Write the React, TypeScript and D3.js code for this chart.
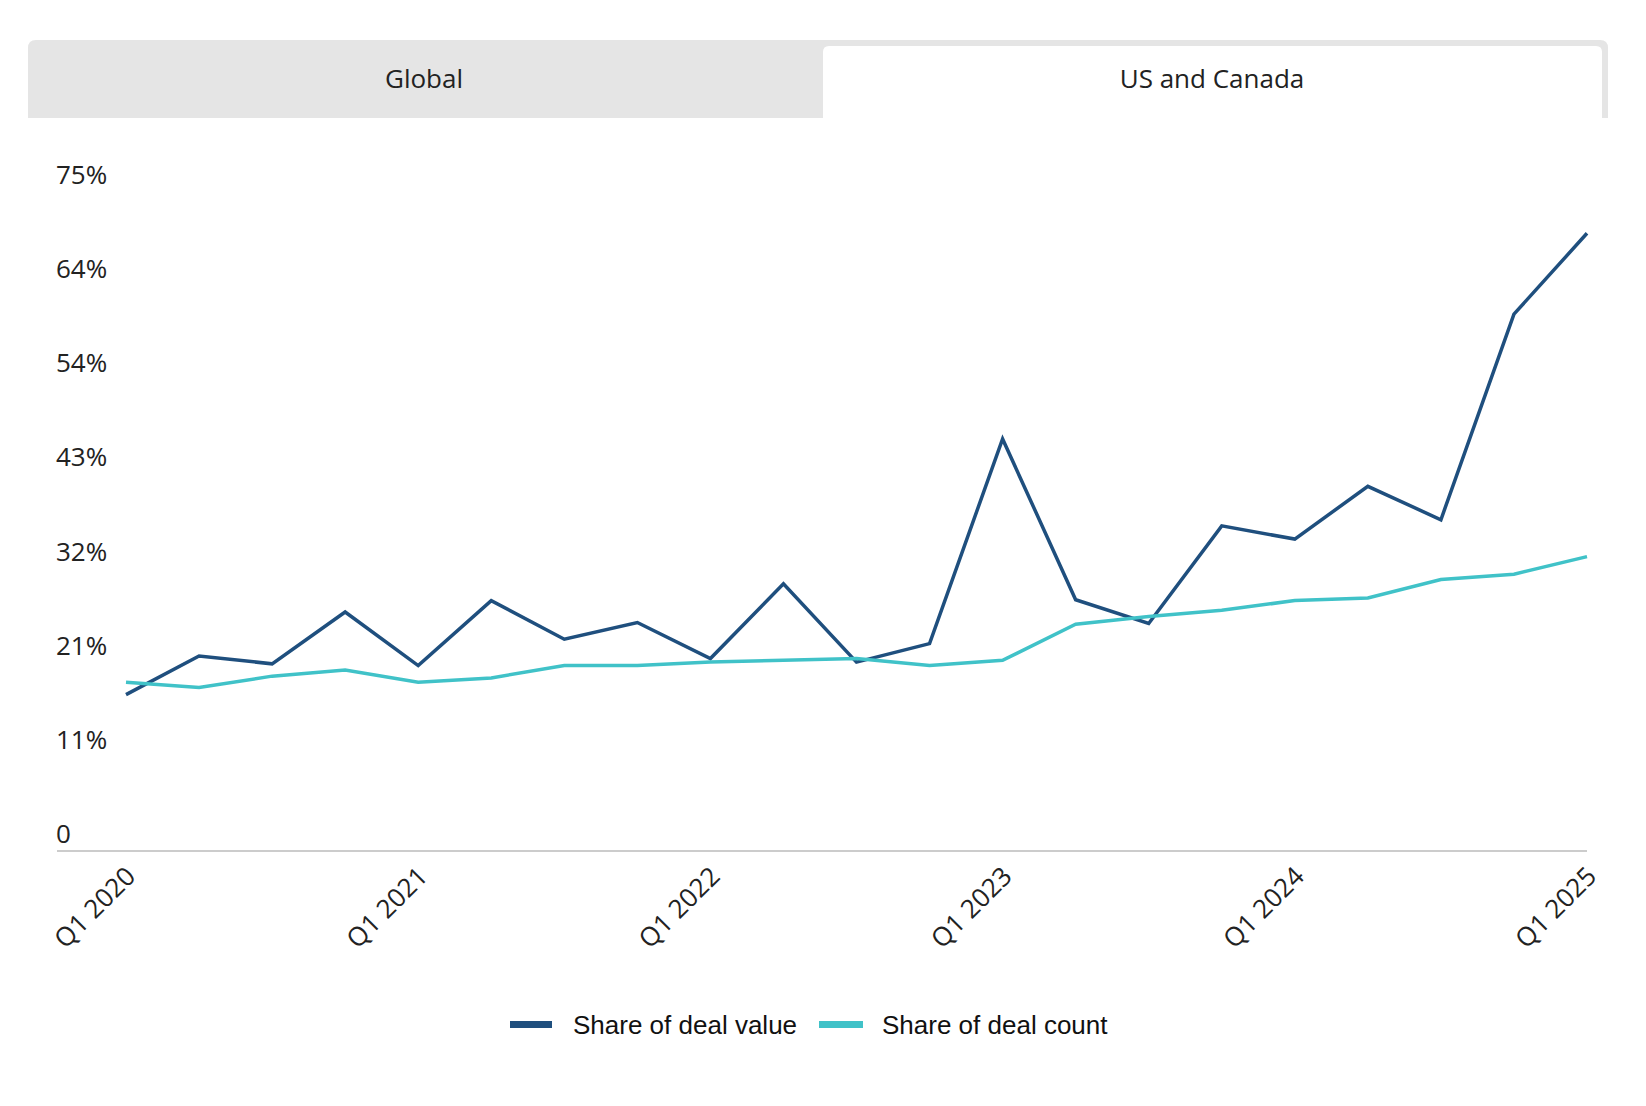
import React from 'react';
import * as d3 from 'd3';

// quarterly series, Q1 2020 .. Q1 2025
const quarters = [
  'Q1 2020', 'Q2 2020', 'Q3 2020', 'Q4 2020',
  'Q1 2021', 'Q2 2021', 'Q3 2021', 'Q4 2021',
  'Q1 2022', 'Q2 2022', 'Q3 2022', 'Q4 2022',
  'Q1 2023', 'Q2 2023', 'Q3 2023', 'Q4 2023',
  'Q1 2024', 'Q2 2024', 'Q3 2024', 'Q4 2024',
  'Q1 2025',
];
const dealValue = [
  17.8, 22.2, 21.3, 27.2, 21.1, 28.5, 24.1, 26.0, 21.9, 30.4, 21.5,
  23.6, 46.9, 28.6, 25.9, 37.0, 35.5, 41.5, 37.7, 61.1, 70.3,
];
const dealCount = [
  19.2, 18.6, 19.9, 20.6, 19.2, 19.7, 21.1, 21.1, 21.5, 21.7, 21.9,
  21.1, 21.7, 25.8, 26.7, 27.4, 28.5, 28.8, 30.9, 31.5, 33.5,
];
const yTicks = [0, 75 / 7, 150 / 7, 225 / 7, 300 / 7, 375 / 7, 450 / 7, 75];
const yTickLabels = ['0', '11%', '21%', '32%', '43%', '54%', '64%', '75%'];
const xTickLabels = ['Q1 2020', 'Q1 2021', 'Q1 2022', 'Q1 2023', 'Q1 2024', 'Q1 2025'];
const tabs = ['Global', 'US and Canada'];
const legendItems = ['Share of deal value', 'Share of deal count'];

const W = 1646;
const H = 1106;
const DARK = '#1f4f7e';
const TEAL = '#40c2c8';
const TICK_FONT = '"Open Sans", "Noto Sans", sans-serif';
const LEGEND_FONT = '"Liberation Sans", Arial, sans-serif';

export default function App() {
  const x = d3.scalePoint<string>().domain(quarters).range([126, 1587]);
  const y = d3.scaleLinear().domain([0, 75]).range([851, 192]);

  const line = d3.line<number>()
    .x((_, i) => x(quarters[i]) as number)
    .y(d => y(d));

  const series = [
    { values: dealValue, color: DARK },
    { values: dealCount, color: TEAL },
  ];

  return (
    <svg
      width={W}
      height={H}
      style={{ position: 'absolute', left: 0, top: 0, background: '#fff' }}
    >
      {/* tab bar */}
      <path d="M28,118 V48 Q28,40 36,40 H1600 Q1608,40 1608,48 V118 Z" fill="#e5e5e5" />
      <path d="M823,118 V52 Q823,46 829,46 H1596 Q1602,46 1602,52 V118 Z" fill="#ffffff" />
      <text x={424} y={88} textAnchor="middle" fontFamily={TICK_FONT} fontSize={26} fill="#222">
        {tabs[0]}
      </text>
      <text x={1212} y={88} textAnchor="middle" fontFamily={TICK_FONT} fontSize={26} fill="#222">
        {tabs[1]}
      </text>

      {/* y labels, sitting above their value */}
      {yTicks.map((t, i) => (
        <text
          key={i}
          x={56}
          y={y(t) - 8}
          fontFamily={TICK_FONT}
          fontSize={26}
          fill="#222"
        >
          {yTickLabels[i]}
        </text>
      ))}

      {/* x axis */}
      <line x1={57} x2={1587} y1={851} y2={851} stroke="#cccccc" strokeWidth={2} />
      {xTickLabels.map(q => {
        const px = x(q) as number;
        return (
          <text
            key={q}
            transform={`translate(${px + 11},${878}) rotate(-45)`}
            textAnchor="end"
            fontFamily={TICK_FONT}
            fontSize={26}
            fill="#222"
          >
            {q}
          </text>
        );
      })}

      {/* lines */}
      {series.map((s, i) => (
        <path
          key={i}
          d={line(s.values) || ''}
          fill="none"
          stroke={s.color}
          strokeWidth={3.5}
          strokeLinejoin="miter"
        />
      ))}

      {/* legend */}
      <rect x={510} y={1021} width={42} height={7} fill={DARK} />
      <text x={573} y={1034} fontFamily={LEGEND_FONT} fontSize={26} fill="#111">
        {legendItems[0]}
      </text>
      <rect x={819} y={1021} width={44} height={7} fill={TEAL} />
      <text x={882} y={1034} fontFamily={LEGEND_FONT} fontSize={26} fill="#111">
        {legendItems[1]}
      </text>
    </svg>
  );
}
